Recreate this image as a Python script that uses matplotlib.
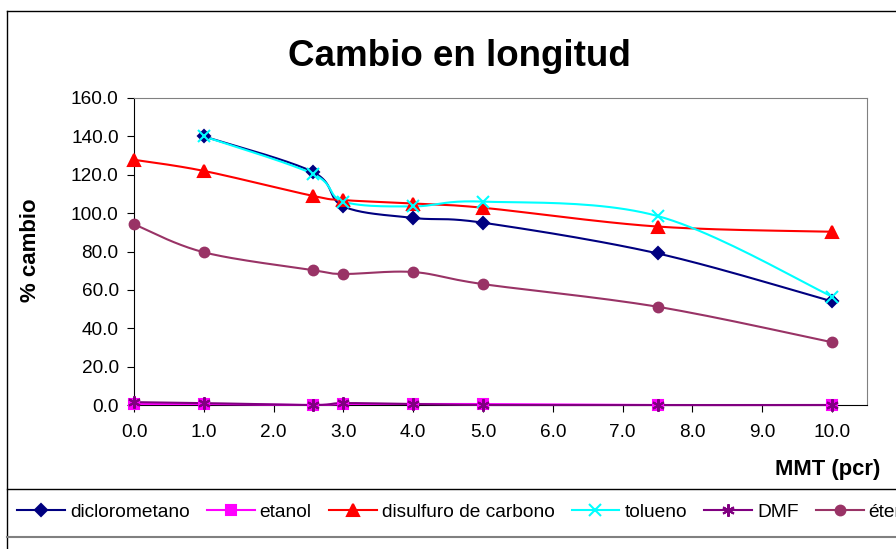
import numpy as np
import matplotlib.pyplot as plt
from matplotlib.lines import Line2D

plt.rcParams['font.family'] = ['Liberation Sans', 'DejaVu Sans']

# Datos
mmt = [0.0, 1.0, 2.56, 3.0, 4.0, 5.0, 7.5, 10.0]
mmt_sin_cero = mmt[1:]

diclorometano = [140.0, 121.5, 103.5, 97.5, 95.0, 79.0, 54.0]
etanol = [0.5, 0.5, 0.0, 0.5, 0.5, 0.5, 0.0, 0.0]
disulfuro = [127.8, 122.0, 109.0, 106.8, 105.0, 102.8, 93.0, 90.3]
tolueno = [140.0, 120.5, 106.0, 103.5, 106.0, 98.5, 56.5]
dmf = [1.5, 1.0, 0.0, 1.0, 0.5, 0.0, 0.0, 0.0]
eter = [94.2, 79.6, 70.3, 68.3, 69.3, 63.0, 51.2, 32.7]

series = [
    ("diclorometano", mmt_sin_cero, diclorometano, "#000080", "D", 6),
    ("etanol", mmt, etanol, "#FF00FF", "s", 6.5),
    ("disulfuro de carbono", mmt, disulfuro, "#FF0000", "^", 8),
    ("tolueno", mmt_sin_cero, tolueno, "#00FFFF", "x", 8),
    ("DMF", mmt, dmf, "#800080", (6, 2, 0), 9),
    ("éter", mmt, eter, "#993366", "o", 7),
]


def suavizar(x, y, n=24):
    # curva tipo Excel (Catmull-Rom) solo para dibujar la linea
    p = np.column_stack([x, y]).astype(float)
    ext = np.vstack([p[0], p, p[-1]])
    out = []
    for i in range(len(p) - 1):
        p0, p1, p2, p3 = ext[i], ext[i + 1], ext[i + 2], ext[i + 3]
        c1 = p1 + (p2 - p0) / 6
        c2 = p2 - (p3 - p1) / 6
        t = np.linspace(0, 1, n)[:, None]
        seg = ((1 - t) ** 3) * p1 + 3 * ((1 - t) ** 2) * t * c1 + 3 * (1 - t) * t ** 2 * c2 + t ** 3 * p2
        out.append(seg if i == 0 else seg[1:])
    seg = np.vstack(out)
    return seg[:, 0], seg[:, 1]


fig = plt.figure(figsize=(8.96, 5.49), dpi=100)
ax = fig.add_axes([134 / 896, 1 - 405 / 549, (867 - 134) / 896, (405 - 98) / 549])

handles = []
for nombre, xs, ys, color, marker, ms in series:
    sx, sy = suavizar(xs, ys)
    ax.plot(sx, sy, color=color, lw=1.5, clip_on=False, zorder=3)
    ax.plot(xs, ys, ls="none", marker=marker, color=color, ms=ms,
            mew=1.5, clip_on=False, zorder=4)
    handles.append(Line2D([], [], color=color, lw=1.5, marker=marker, ms=ms, mew=1.5, label=nombre))

ax.set_xlim(0, 10.5)
ax.set_ylim(0, 160)
ax.set_xticks(np.arange(0, 11, 1))
ax.set_yticks(np.arange(0, 161, 20))
ax.set_xticklabels([f"{v:.1f}" for v in np.arange(0, 11, 1)])
ax.set_yticklabels([f"{v:.1f}" for v in np.arange(0, 161, 20)])
ax.tick_params(labelsize=13.7, length=5, direction="out", color="#000000")
ax.tick_params(axis="x", pad=9)
ax.tick_params(axis="y", pad=6)
for s in ["top", "right"]:
    ax.spines[s].set_color("#808080")
for s in ["left", "bottom"]:
    ax.spines[s].set_color("#000000")

fig.text(459 / 896, 1 - 57 / 549, "Cambio en longitud", ha="center", va="center",
         fontsize=26.5, fontweight="bold")
fig.text(30 / 896, 1 - 250 / 549, "% cambio", rotation=90, ha="center", va="center",
         fontsize=16, fontweight="bold")
fig.text(880 / 896, 1 - 470 / 549, "MMT (pcr)", ha="right", va="center",
         fontsize=15.8, fontweight="bold")

# marco del grafico y de la leyenda
fig.add_artist(Line2D([7 / 896, 7 / 896], [0, 1 - 11 / 549], color="#000000", lw=1))
fig.add_artist(Line2D([7 / 896, 1], [1 - 11 / 549, 1 - 11 / 549], color="#000000", lw=1))
fig.add_artist(Line2D([7 / 896, 1], [1 - 489 / 549, 1 - 489 / 549], color="#000000", lw=1))
fig.add_artist(Line2D([7 / 896, 1], [1 - 537 / 549, 1 - 537 / 549], color="#808080", lw=1.5))

fig.legend(handles=handles, loc="center left", bbox_to_anchor=(17 / 896, 1 - 512 / 549),
           ncol=6, frameon=False, fontsize=13.8, handlelength=2.5, handletextpad=0.26,
           columnspacing=0.89, borderaxespad=0, borderpad=0)

fig.savefig("out.png", dpi=100)
